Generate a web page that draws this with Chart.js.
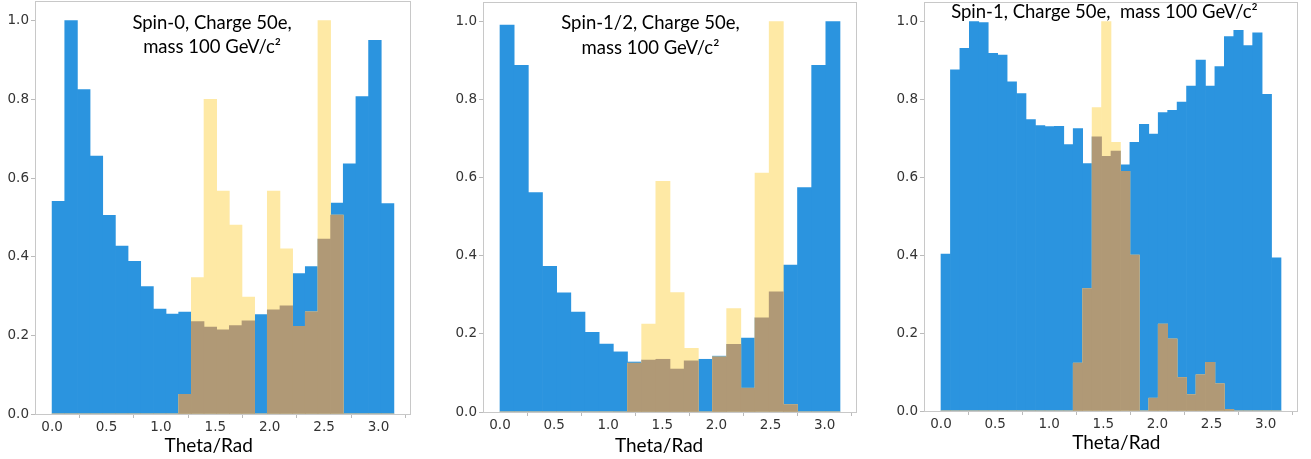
<!DOCTYPE html>
<html>
<head>
<meta charset="utf-8">
<script src="https://cdn.jsdelivr.net/npm/chart.js@4.4.0/dist/chart.umd.min.js"></script>
<style>
  body { margin: 0; background: #fff; width: 1311px; height: 459px; position: relative; overflow: hidden; }
  .panel { position: absolute; top: 0; height: 459px; }
</style>
</head>
<body>
<div class="panel" style="left:0;width:437px"><canvas id="c0"></canvas></div>
<div class="panel" style="left:440px;width:437px"><canvas id="c1"></canvas></div>
<div class="panel" style="left:880px;width:431px"><canvas id="c2"></canvas></div>
<script>
// tick labels shared by all three panels
const xTicks = [0.0, 0.5, 1.0, 1.5, 2.0, 2.5, 3.0];
const yTicks = [0.0, 0.2, 0.4, 0.6, 0.8, 1.0];

// spin-0 : 27 bins over 0..pi
const blueSpin0 = [0.541, 1.0, 0.825, 0.656, 0.505, 0.427, 0.388, 0.324, 0.267, 0.254,
  0.259, 0.235, 0.221, 0.214, 0.225, 0.237, 0.253, 0.265, 0.275, 0.357,
  0.375, 0.445, 0.536, 0.636, 0.807, 0.95, 0.535];
const yellowSpin0 = [0, 0, 0, 0, 0, 0, 0, 0, 0, 0,
  0.05, 0.347, 0.80, 0.567, 0.48, 0.297, 0, 0.567, 0.42, 0.223,
  0.26, 1.0, 0.506, 0, 0, 0, 0];

// spin-1/2 : 24 bins
const blueSpinHalf = [0.991, 0.888, 0.562, 0.373, 0.305, 0.256, 0.204, 0.174, 0.154, 0.128,
  0.133, 0.135, 0.11, 0.131, 0.135, 0.143, 0.173, 0.189, 0.241, 0.308,
  0.376, 0.575, 0.888, 1.0];
const yellowSpinHalf = [0, 0, 0, 0, 0, 0, 0, 0, 0, 0.125,
  0.225, 0.591, 0.306, 0.163, 0, 0.141, 0.265, 0.061, 0.612, 1.0,
  0.019, 0, 0, 0];

// spin-1 : 36 bins
const blueSpin1 = [0.403, 0.876, 0.931, 1.0, 0.997, 0.918, 0.914, 0.845, 0.815, 0.748,
  0.733, 0.730, 0.731, 0.684, 0.725, 0.635, 0.704, 0.654, 0.667, 0.632,
  0.69, 0.736, 0.711, 0.766, 0.772, 0.793, 0.834, 0.901, 0.834, 0.884,
  0.961, 0.977, 0.938, 0.971, 0.813, 0.393];
const yellowSpin1 = [0, 0, 0, 0, 0, 0, 0, 0, 0, 0,
  0, 0, 0, 0, 0.123, 0.314, 0.779, 1.0, 0.69, 0.615,
  0.40, 0, 0.033, 0.223, 0.185, 0.086, 0.042, 0.093, 0.125, 0.07,
  0.004, 0, 0, 0, 0, 0];

const blueColor = "#2B94DF";
const yellowColor = "#FEE9A5";
const overlapColor = "#B09976"; // where the two histograms overlap
const frameColor = "#c8c8c8";
const tickFont = { family: "DejaVu Sans", size: 13.5 };
const textFont = "18.5px Lato";

// frame round the axes, title text and x label
const framePlugin = {
  id: "frame",
  afterDraw(chart, args, opts) {
    const { ctx, chartArea: a, scales } = chart;
    ctx.save();
    ctx.strokeStyle = frameColor;
    ctx.lineWidth = 1;
    ctx.strokeRect(Math.round(a.left) + 0.5, Math.round(a.top) + 0.5,
      Math.round(a.right - a.left) - 1, Math.round(a.bottom - a.top));
    ctx.fillStyle = "#000";
    ctx.font = textFont;
    ctx.textAlign = "center";
    ctx.textBaseline = "middle";
    opts.lines.forEach((t, i) => {
      ctx.fillText(t, scales.x.getPixelForValue(opts.tx), scales.y.getPixelForValue(opts.ty[i]));
    });
    ctx.font = "19px Lato";
    ctx.fillText("Theta/Rad", scales.x.getPixelForValue(opts.lx), opts.ly);
    ctx.restore();
  }
};

function makeHist(id, blue, yellow, p) {
  const step = Math.PI / blue.length;
  const centers = blue.map((_, i) => (i + 0.5) * step);
  const pts = arr => arr.map((v, i) => ({ x: centers[i], y: v }));
  const overlap = blue.map((v, i) => Math.min(v, yellow[i]));
  return new Chart(document.getElementById(id), {
    type: "bar",
    plugins: [framePlugin],
    data: {
      datasets: [
        { data: pts(blue), backgroundColor: blueColor, order: 3 },
        { data: pts(yellow), backgroundColor: yellowColor, order: 2 },
        { data: pts(overlap), backgroundColor: overlapColor, order: 1 },
      ],
    },
    options: {
      responsive: true,
      maintainAspectRatio: false,
      animation: false,
      grouped: false,
      barPercentage: 1.0,
      categoryPercentage: 1.0,
      borderWidth: 0,
      layout: { padding: { left: 0, right: p.right, top: p.top, bottom: 0 } },
      plugins: {
        legend: { display: false },
        tooltip: { enabled: false },
        frame: { lines: p.lines, tx: p.tx, ty: p.ty, lx: p.lx, ly: p.ly },
      },
      scales: {
        x: {
          type: "linear",
          min: -0.05 * Math.PI,
          max: 1.05 * Math.PI,
          offset: false,
          afterBuildTicks: s => { s.ticks = xTicks.map(v => ({ value: v })); },
          afterFit: s => { s.height = p.xh; s.paddingLeft = 0; s.paddingRight = 0; },
          ticks: { callback: v => v.toFixed(1), font: tickFont, color: "#333333", padding: 1, maxRotation: 0, autoSkip: false },
          grid: { drawOnChartArea: false, drawTicks: true, tickLength: 4, color: "#bbbbbb" },
          border: { display: false },
        },
        y: {
          min: 0,
          max: 1.05,
          afterBuildTicks: s => { s.ticks = yTicks.map(v => ({ value: v })); },
          afterFit: s => { s.width = p.yw; s.paddingTop = 0; s.paddingBottom = 0; },
          ticks: { callback: v => v.toFixed(1), font: tickFont, color: "#333333", padding: 2 },
          grid: { drawOnChartArea: false, drawTicks: true, tickLength: 4, color: "#bbbbbb" },
          border: { display: false },
        },
      },
    },
  });
}

makeHist("c0", blueSpin0, yellowSpin0, {
  yw: 35, right: 26, top: 1, xh: 45,
  lines: ["Spin-0, Charge 50e,", "mass 100 GeV/c\u00B2"], tx: 1.47, ty: [0.995, 0.934], lx: 1.44, ly: 446,
});
makeHist("c1", blueSpinHalf, yellowSpinHalf, {
  yw: 43, right: 20, top: 2, xh: 47,
  lines: ["Spin-1/2, Charge 50e,", "mass 100 GeV/c\u00B2"], tx: 1.39, ty: [0.996, 0.931], lx: 1.47, ly: 446,
});
makeHist("c2", blueSpin1, yellowSpin1, {
  yw: 44, right: 13, top: 2, xh: 48,
  lines: ["Spin-1, Charge 50e,  mass 100 GeV/c\u00B2"], tx: 1.51, ty: [1.024], lx: 1.62, ly: 443,
});
</script>
</body>
</html>
